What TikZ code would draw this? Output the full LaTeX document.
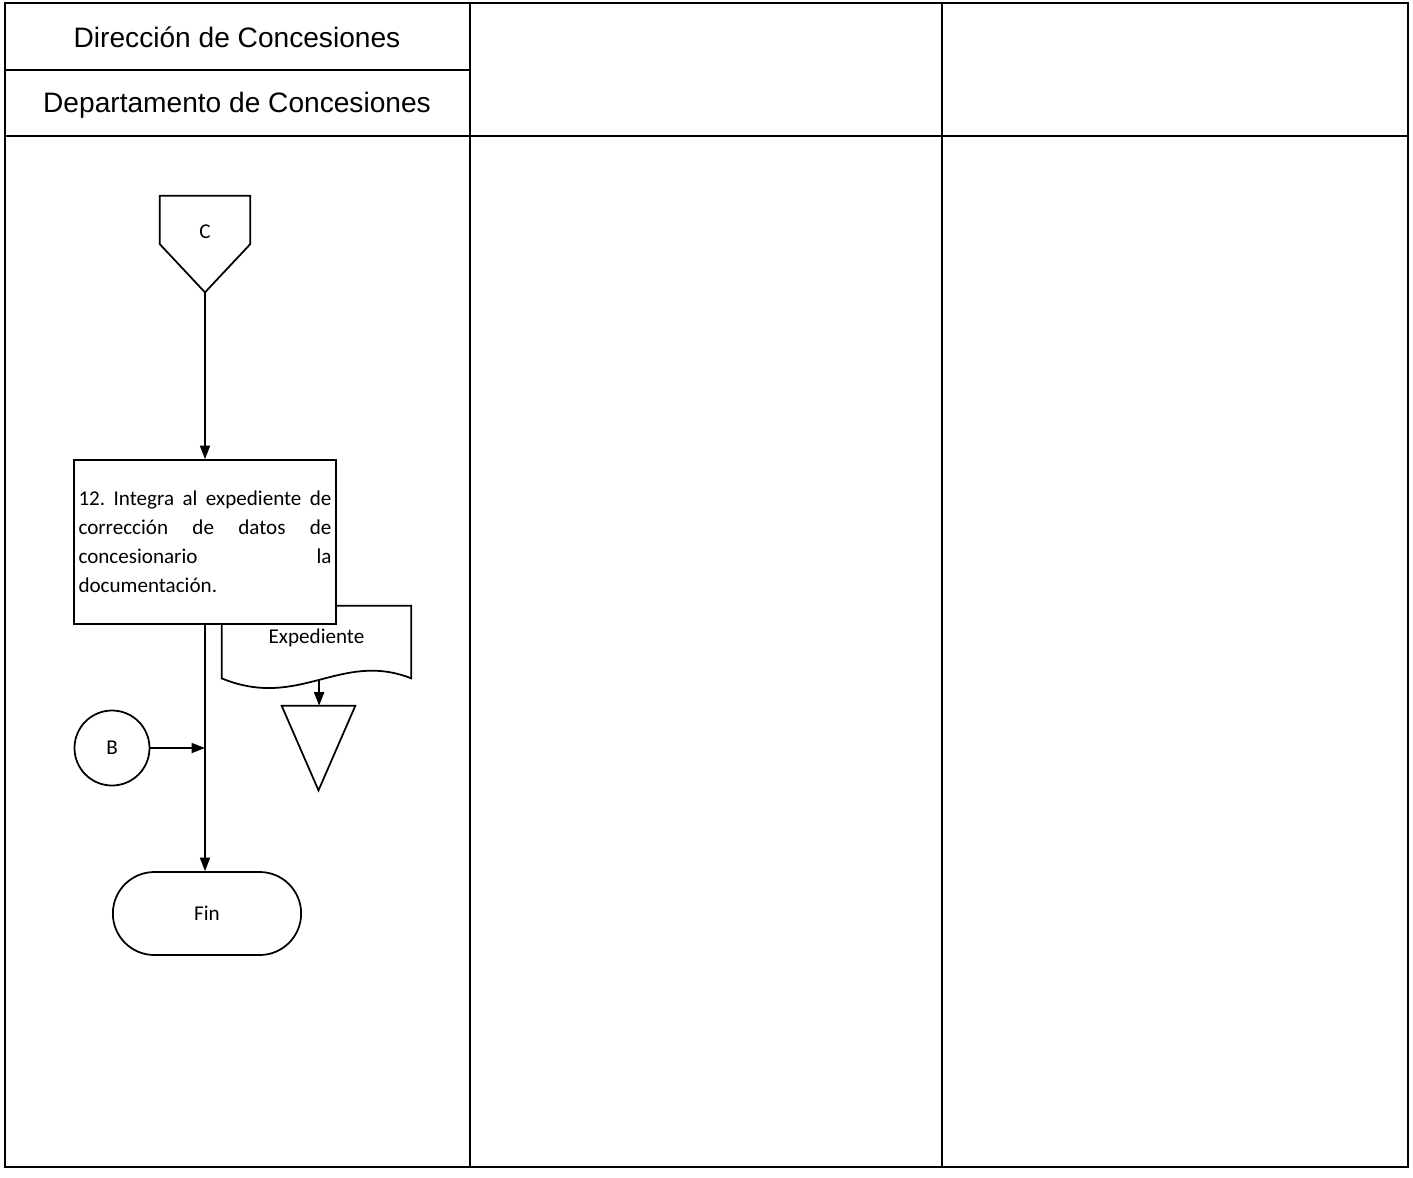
\documentclass[tikz,border=0pt]{standalone}
\usepackage{fontspec}
\setmainfont{Carlito}
\newfontfamily\arialfont{Liberation Sans}
\usetikzlibrary{arrows.meta,positioning,calc,shapes.misc}

\begin{document}
\begin{tikzpicture}[
  font=\fontsize{12}{16.5}\selectfont,
  frame/.style={line width=1pt, draw=black},
  lanehead/.style={font=\arialfont\fontsize{16}{19}\selectfont},
  marker/.style={draw=none, inner sep=0pt},
  shapeline/.style={line width=1pt, draw=black},
  process/.style={
    draw,
    line width=1pt,
    fill=white,
    minimum width=5.24cm,
    minimum height=3.28cm,
    text width=5.06cm,
    align=left,
    inner xsep=0.09cm
  },
  connector/.style={circle, draw, line width=1pt, minimum size=1.50cm, inner sep=0pt},
  terminal/.style={rounded rectangle, draw, line width=1pt, minimum width=4.00cm, minimum height=1.66cm},
  link/.style={-{Triangle[length=0.27cm,width=0.20cm]}, line width=1pt}
]

\path[use as bounding box] (0,0) rectangle (28.26,-23.54);

% lanes
\draw[frame] (0.10,-0.06) rectangle (28.16,-23.34);
\draw[frame] (9.40,-0.06) -- (9.40,-23.34);
\draw[frame] (18.84,-0.06) -- (18.84,-23.34);
\draw[frame] (0.10,-1.40) -- (9.40,-1.40);
\draw[frame] (0.10,-2.72) -- (28.16,-2.72);
\node[lanehead] (direccion) at (4.74,-0.74) {Dirección de Concesiones};
\node[lanehead] (depto) at (4.74,-2.10) {Departamento de Concesiones};

% off-page connector C
\node[marker, minimum width=1.80cm, minimum height=1.92cm] (conC) at (4.10,-4.88) {};
\draw[shapeline] (conC.north west) -- (conC.north east) -- (conC.east) -- (conC.south) -- (conC.west) -- cycle;
\node (letraC) at ($(conC.north)+(0,-0.72)$) {C};

% document behind the process box
\node[marker, minimum width=3.78cm, minimum height=1.44cm] (expediente) at (6.33,-12.84) {};
\draw[shapeline, fill=white] (expediente.north west) -- (expediente.north east) -- (expediente.south east)
  .. controls ($(expediente.south east)+(-1.42,0.56)$) and ($(expediente.south west)+(1.56,-0.64)$) ..
  coordinate[pos=0.5] (pliegue) (expediente.south west) -- cycle;
\node (textoExp) at ($(expediente.center)+(0,0.08)$) {Expediente};

\node[process] (integra) at (4.10,-10.84) {
  12.\hfill Integra\hfill al\hfill expediente\hfill de\\
  corrección\hfill de\hfill datos\hfill de\\
  concesionario\hfill la\\
  documentación.
};

% archive
\node[marker, minimum width=1.46cm, minimum height=1.68cm] (archivo) at (6.37,-14.96) {};
\draw[shapeline] (archivo.north west) -- (archivo.north east) -- (archivo.south) -- cycle;

\node[connector] (conB) at (2.24,-14.96) {B};
\node[terminal] (fin) at (4.14,-18.27) {Fin};

\coordinate (union) at (integra.south |- conB.east);

\draw[link] (conC.south) -- (integra.north);
\draw[link] (pliegue) -- (pliegue |- archivo.north);
\draw[link] (integra.south) -- (integra.south |- fin.north);
\draw[link] (conB.east) -- (union);

\end{tikzpicture}
\end{document}
